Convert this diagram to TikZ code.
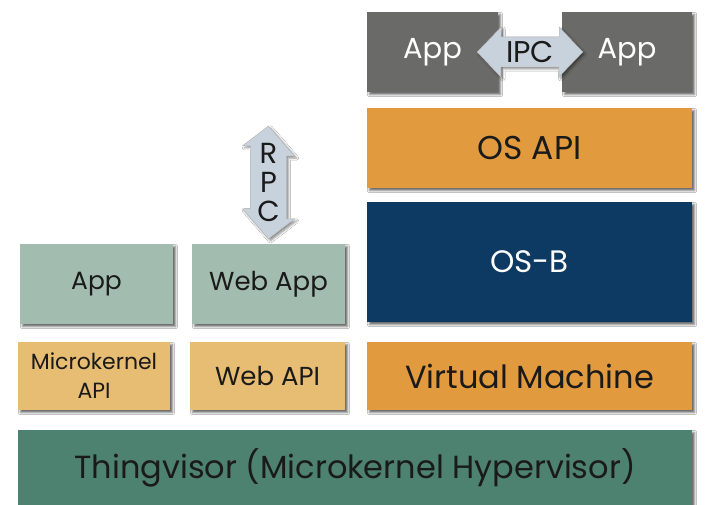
\documentclass[tikz,border=0pt]{standalone}
\usepackage{fontspec}
\setmainfont{Poppins}
\usetikzlibrary{shadows.blur}
\definecolor{grayapp}{HTML}{6A6A68}
\definecolor{orangebox}{HTML}{E29A3E}
\definecolor{navybox}{HTML}{0D3A63}
\definecolor{sagebox}{HTML}{A2BCB0}
\definecolor{tanbox}{HTML}{E6BD72}
\definecolor{greenbox}{HTML}{4E8270}
\definecolor{arrowfill}{HTML}{C8D2DC}
\definecolor{darktext}{HTML}{1A1A1A}
\tikzset{
  layer/.style={rectangle, inner sep=0pt, text=darktext,
    blur shadow={shadow xshift=2.5pt, shadow yshift=-2.5pt, shadow opacity=60, shadow blur steps=4}},
  comm/.style={fill=arrowfill, draw=gray!60, line width=0.4pt,
    blur shadow={shadow xshift=2pt, shadow yshift=-2pt, shadow opacity=45, shadow blur steps=4}},
}
\begin{document}
\begin{tikzpicture}[x=1pt,y=-1pt]
\useasboundingbox[fill=white] (0,0) rectangle (707,505);
% right stack
\node[layer, fill=grayapp, text=white, minimum width=131pt, minimum height=80pt, font=\fontsize{29}{34}\selectfont] (appL) at (432.5,52) {App};
\node[layer, fill=grayapp, text=white, minimum width=130pt, minimum height=80pt, font=\fontsize{29}{34}\selectfont] (appR) at (627,52) {App};
\node[layer, fill=orangebox, minimum width=325pt, minimum height=80pt, font=\fontsize{33}{38}\selectfont] (osapi) at (529.5,148) {OS API};
\node[layer, fill=navybox, text=white, minimum width=325pt, minimum height=120pt, font=\fontsize{31}{36}\selectfont] (osb) at (529.5,262) {OS-B};
\node[layer, fill=orangebox, minimum width=325pt, minimum height=68pt, font=\fontsize{32}{37}\selectfont] (vm) at (529.5,376) {Virtual Machine};
% left stack
\node[layer, fill=sagebox, minimum width=153pt, minimum height=80pt, font=\fontsize{25}{30}\selectfont] (app) at (96.5,284) {App};
\node[layer, fill=sagebox, minimum width=153pt, minimum height=80pt, font=\fontsize{26}{30}\selectfont] (webapp) at (268.5,284) {Web App};
\node[layer, fill=tanbox, minimum width=152pt, minimum height=68pt, align=center, font=\fontsize{22}{29}\selectfont] (mkapi) at (94,376) {Microkernel\\API};
\node[layer, fill=tanbox, minimum width=155pt, minimum height=68pt, font=\fontsize{26}{30}\selectfont] (webapi) at (267.5,376) {Web API};
% base
\node[layer, fill=greenbox, minimum width=674pt, minimum height=76pt, font=\fontsize{32}{37}\selectfont] (thing) at (355,468) {Thingvisor (Microkernel Hypervisor)};
% IPC arrow between the two apps
\coordinate (ipcL) at ([xshift=-21pt]appL.east);
\coordinate (ipcR) at ([xshift=21pt]appR.west);
\draw[comm] (ipcL) -- ++(24,-25) -- ++(0,10) -- ++(58,0) -- ++(0,-10) -- (ipcR)
  -- ++(-24,25) -- ++(0,-10) -- ++(-58,0) -- ++(0,10) -- cycle;
\node[font=\fontsize{30}{34}\selectfont, text=darktext, inner sep=0pt] (ipct) at ($(ipcL)!0.5!(ipcR)$) {IPC};
% RPC arrow down to Web App
\coordinate (rpcB) at ([yshift=5pt]webapp.north);
\coordinate (rpcT) at (268.5,126);
\draw[comm] (rpcT) -- ++(26,30) -- ++(-8,0) -- ++(0,63) -- ++(8,0) -- (rpcB)
  -- ++(-26,-30) -- ++(8,0) -- ++(0,-63) -- ++(-8,0) -- cycle;
\node[font=\fontsize{29}{33}\selectfont, text=darktext, align=center, inner sep=0pt] (rpct) at ($(rpcT)!0.5!(rpcB)$) {R\\[-4pt]P\\[-4pt]C};
\end{tikzpicture}
\end{document}
